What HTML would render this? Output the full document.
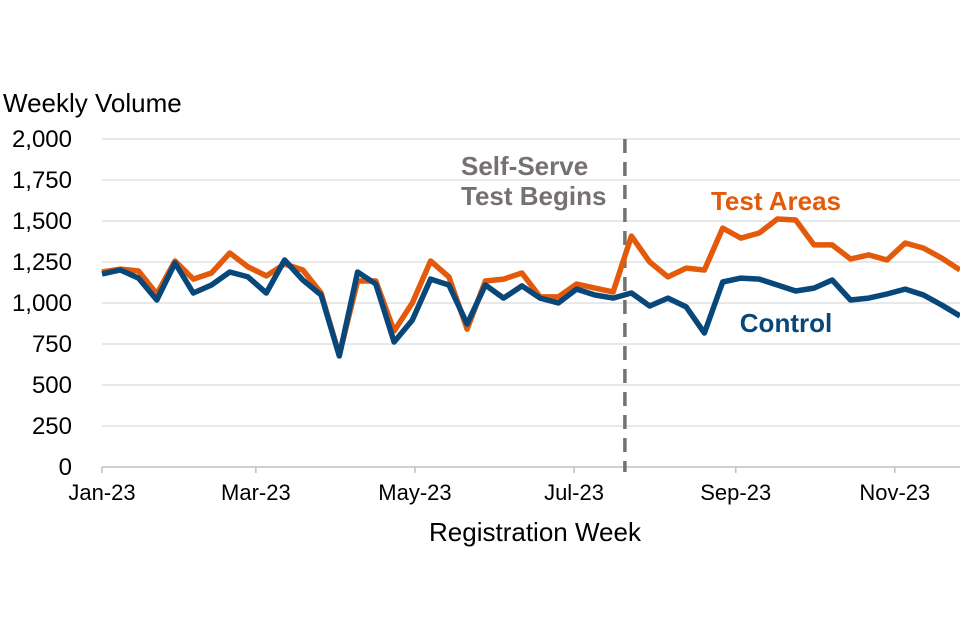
<!DOCTYPE html>
<html><head><meta charset="utf-8"><style>
html,body{margin:0;padding:0;background:#fff;}
svg{display:block;font-family:"Liberation Sans",Arial,sans-serif;}
</style></head><body>
<svg id="chart" width="960" height="640"></svg>
<script>
const tickDays=[0,59,120,181,243,304];
const tickLabels=["Jan-23","Mar-23","May-23","Jul-23","Sep-23","Nov-23"];
const yTicks=[0,250,500,750,1000,1250,1500,1750,2000];
const yTickLabels=["0","250","500","750","1,000","1,250","1,500","1,750","2,000"];
const testAreas=[1189,1207,1195,1055,1256,1146,1183,1305,1220,1165,1238,1201,1061,683,1134,1134,829,1000,1256,1159,841,1134,1146,1183,1037,1037,1116,1091,1067,1408,1250,1159,1213,1201,1457,1396,1427,1512,1506,1354,1354,1268,1293,1262,1366,1335,1274,1201];
const control=[1177,1201,1152,1018,1244,1061,1110,1189,1159,1061,1262,1140,1049,677,1189,1116,762,896,1146,1110,872,1110,1030,1104,1030,1000,1085,1049,1030,1061,982,1030,976,817,1128,1152,1146,1110,1073,1091,1140,1018,1030,1055,1085,1049,988,921];
const testStartDay=200.5;

const NS="http://www.w3.org/2000/svg";
const svg=document.getElementById('chart');
const X0=102,X1=960,Y0=467,Y1=139,lastDay=(testAreas.length-1)*7;
const xs=d=>X0+(X1-X0)*d/lastDay;
const ys=v=>Y0-(Y0-Y1)*v/2000;
function mk(tag,attrs,txt){const e=document.createElementNS(NS,tag);for(const k in attrs)e.setAttribute(k,attrs[k]);if(txt!==undefined)e.textContent=txt;svg.appendChild(e);return e;}

yTicks.forEach((v,i)=>{
  if(v>0){const g=mk('line',{x1:X0,x2:X1,y1:ys(v),y2:ys(v),stroke:'#d9d9d9','stroke-width':1.3});
  
  }
  const t=mk('text',{x:72,y:ys(v)+8,'text-anchor':'end','font-size':24,fill:'#000'},yTickLabels[i]);
  
  
});
const ax=mk('line',{x1:X0,x2:X1,y1:Y0,y2:Y0,stroke:'#bfbfbf','stroke-width':1.5});


tickDays.forEach((d,i)=>{
  const tk=mk('line',{x1:xs(d),x2:xs(d),y1:Y0,y2:Y0+6,stroke:'#bfbfbf','stroke-width':1.5});
  
  
  const t=mk('text',{x:xs(d),y:Y0+33,'text-anchor':'middle','font-size':22,fill:'#000'},tickLabels[i]);
  
  
});
const yt=mk('text',{x:3,y:112,'font-size':26,fill:'#000'},'Weekly Volume');


const xt=mk('text',{x:535,y:541,'text-anchor':'middle','font-size':26,fill:'#000'},'Registration Week');



const dl=mk('line',{x1:xs(testStartDay),x2:xs(testStartDay),y1:139,y2:472,stroke:'#767171','stroke-width':3.5,'stroke-dasharray':'14,9'});


const a1=mk('text',{x:461,y:175,'font-size':26,'font-weight':'bold',fill:'#767171'},'Self-Serve');


const a2=mk('text',{x:461,y:205,'font-size':26,'font-weight':'bold',fill:'#767171'},'Test Begins');



function series(arr,color,name){
  const pts=arr.map((v,i)=>xs(i*7).toFixed(1)+','+ys(v).toFixed(1)).join(' ');
  const p=mk('polyline',{points:pts,fill:'none',stroke:color,'stroke-width':5.5,'stroke-linejoin':'round'});
  
  
}
series(testAreas,'#e35a0a','test-areas-line');
series(control,'#08477a','control-line');

const l1=mk('text',{x:776,y:210,'text-anchor':'middle','font-size':26,'font-weight':'bold',fill:'#e35a0a'},'Test Areas');


const l2=mk('text',{x:786,y:332,'text-anchor':'middle','font-size':26,'font-weight':'bold',fill:'#08477a'},'Control');


</script>
</body></html>
